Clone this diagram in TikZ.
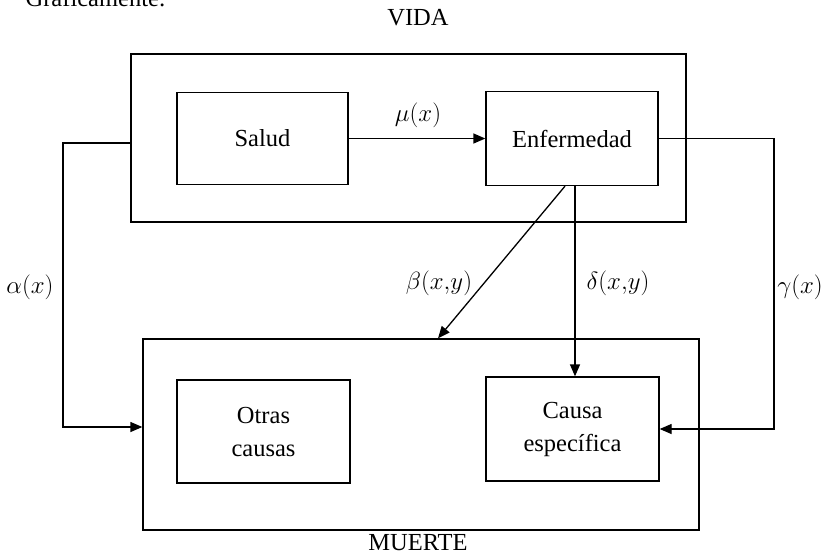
\documentclass[tikz,border=0pt]{standalone}
\usepackage{fontspec}
\setmainfont{Liberation Serif}
\usetikzlibrary{arrows.meta}
\begin{document}
\begin{tikzpicture}[x=1pt,y=-1pt,line width=1.3pt,
  every node/.style={font=\fontsize{24.5}{33}\selectfont},
  box/.style={draw,rectangle,inner sep=0pt,align=center},
  lbl/.style={inner sep=0pt},
  mlbl/.style={inner sep=0pt,font=\fontsize{23}{33}\selectfont},
  arr/.style={-{Triangle[length=12pt,width=10pt]}}]
\useasboundingbox (0,0) rectangle (835,558);
% title (partially cut)
\node[lbl,anchor=base west] (title) at (25,6) {Gráficamente:};
% outer boxes
\node[box,minimum width=555pt,minimum height=168pt] (vida) at (408.5,138) {};
\node[box,minimum width=556pt,minimum height=191pt] (muerte) at (421,434.5) {};
% inner boxes
\node[box,minimum width=171pt,minimum height=92pt] (salud) at (262.5,138.5) {Salud};
\node[box,minimum width=172pt,minimum height=94pt] (enf) at (572,138.5) {Enfermedad};
\node[box,minimum width=173pt,minimum height=103pt] (otras) at (263.5,431.5) {Otras\\causas};
\node[box,minimum width=173pt,minimum height=104pt] (causa) at (572.5,429) {Causa\\específica};
% group labels
\node[lbl] (vidal) at (418,18) {VIDA};
\node[lbl] (muertel) at (418,543) {MUERTE};
% connectors
\coordinate (aL) at (63,0);
\coordinate (gR) at (774,0);
\draw[arr] (salud.east) -- (enf.west);
\draw[arr] ([yshift=-5pt]vida.west) -- ([yshift=-5pt]vida.west -| aL) -- ([yshift=7.5pt]muerte.west -| aL) -- ([yshift=7.5pt]muerte.west);
\draw[arr] (enf.east) -- (enf.east -| gR) -- (gR |- causa.east) -- (causa.east);
\draw[arr] ([xshift=3pt]enf.south) -- ([xshift=2.5pt]causa.north);
\draw[arr] ([xshift=-7pt]enf.south) -- ([xshift=17pt]muerte.north);
% rate labels
\node[mlbl] (mu) at (418,115) {$\mu(x)$};
\node[mlbl] (beta) at (439,283) {$\beta(x{,}y)$};
\node[mlbl] (delta) at (618,283) {$\delta(x{,}y)$};
\node[mlbl] (alpha) at (30,287) {$\alpha(x)$};
\node[mlbl] (gamma) at (800,287) {$\gamma(x)$};
\end{tikzpicture}
\end{document}
